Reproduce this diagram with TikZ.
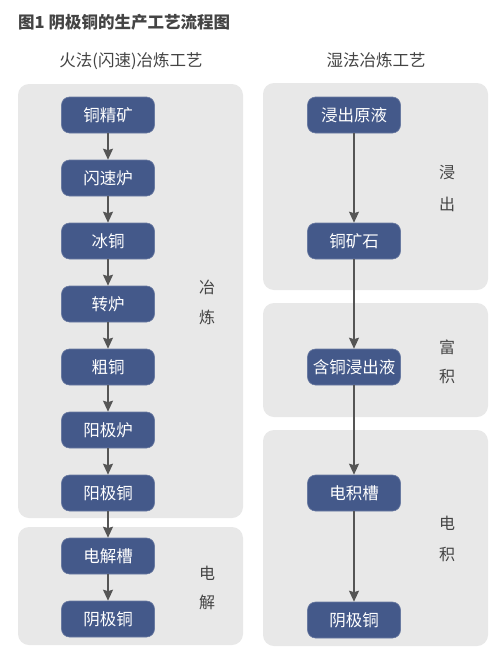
\documentclass[tikz,border=0pt]{standalone}
\usepackage{fontspec}
\setmainfont{Noto Sans CJK SC}
\usetikzlibrary{arrows.meta}
\definecolor{nodeblue}{HTML}{44598A}
\definecolor{panelgray}{HTML}{E8E8E8}
\definecolor{arrowgray}{HTML}{555555}
\definecolor{textgray}{HTML}{444444}
\tikzset{
  procbox/.style={rectangle, rounded corners=8pt, fill=nodeblue, draw=nodeblue!80!white, line width=0.6pt,
    minimum width=93pt, minimum height=36pt, text=white, font=\fontsize{16.5}{18}\selectfont, inner sep=0pt},
  panel/.style={fill=panelgray, rounded corners=11pt, draw=none},
  flow/.style={draw=arrowgray, line width=1.5pt, -{Stealth[length=11pt,width=10pt,inset=1.5pt]}},
  sidelabel/.style={text=textgray, font=\fontsize{16}{18}\selectfont, inner sep=0pt},
  heading/.style={text=textgray, font=\fontsize{16.5}{18}\selectfont, inner sep=0pt},
}
\begin{document}
\begin{tikzpicture}[x=1pt,y=-1pt]
\useasboundingbox (0,0) rectangle (500,664);
\fill[white] (0,0) rectangle (500,664);
% title
\node[anchor=west, text=textgray, font=\fontsize{16.5}{18}\selectfont\bfseries, inner sep=0pt] (title) at (18,22) {图1 阴极铜的生产工艺流程图};
\node[heading] (hl) at (131,61) {火法(闪速)冶炼工艺};
\node[heading] (hr) at (376,60) {湿法冶炼工艺};
% panels
\fill[panel] (18,84) rectangle (243,518);
\fill[panel] (18,527) rectangle (243,645);
\fill[panel] (263,83) rectangle (488,290);
\fill[panel] (263,303) rectangle (488,417);
\fill[panel] (263,430) rectangle (488,646);
% side labels
\node[sidelabel] (l1a) at (207,287) {冶};
\node[sidelabel] (l1b) at (207,317) {炼};
\node[sidelabel] (l2a) at (207,573) {电};
\node[sidelabel] (l2b) at (207,602) {解};
\node[sidelabel] (r1a) at (447,173) {浸};
\node[sidelabel] (r1b) at (447,204) {出};
\node[sidelabel] (r2a) at (447,347) {富};
\node[sidelabel] (r2b) at (447,376) {积};
\node[sidelabel] (r3a) at (447,523) {电};
\node[sidelabel] (r3b) at (447,554) {积};
% left nodes
\node[procbox] (a1) at (108,115) {铜精矿};
\node[procbox] (a2) at (108,178) {闪速炉};
\node[procbox] (a3) at (108,241) {冰铜};
\node[procbox] (a4) at (108,304) {转炉};
\node[procbox] (a5) at (108,367) {粗铜};
\node[procbox] (a6) at (108,430) {阳极炉};
\node[procbox] (a7) at (108,493) {阳极铜};
\node[procbox] (a8) at (108,556) {电解槽};
\node[procbox] (a9) at (108,619) {阴极铜};
% right nodes
\node[procbox] (b1) at (354,115) {浸出原液};
\node[procbox] (b2) at (354,241) {铜矿石};
\node[procbox] (b3) at (354,367) {含铜浸出液};
\node[procbox] (b4) at (354,493) {电积槽};
\node[procbox] (b5) at (354,620) {阴极铜};
% arrows
\foreach \u/\v in {a1/a2,a2/a3,a3/a4,a4/a5,a5/a6,a6/a7,a7/a8,a8/a9,b1/b2,b2/b3,b3/b4,b4/b5}
  \draw[flow] (\u) -- (\v);
\end{tikzpicture}
\end{document}
